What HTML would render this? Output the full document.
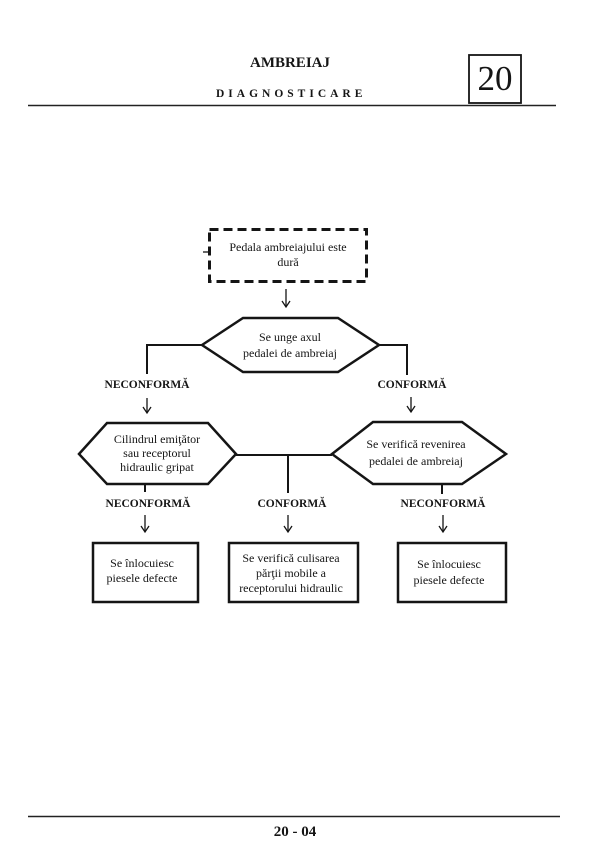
<!DOCTYPE html>
<html>
<head>
<meta charset="utf-8">
<style>
  html,body{margin:0;padding:0;background:#fff;}
  body{width:605px;height:868px;overflow:hidden;}
  svg{display:block;}
  .t{font-family:"Liberation Serif",serif;fill:#151515;}
  .n{font-size:12px;}
  .b{font-weight:bold;font-size:11.5px;}
</style>
</head>
<body>
<svg width="605" height="868" viewBox="0 0 605 868" xmlns="http://www.w3.org/2000/svg">
  <rect width="605" height="868" fill="#fff"/>

  <!-- Header -->
  <text class="t" x="290" y="67" text-anchor="middle" font-size="15" font-weight="bold">AMBREIAJ</text>
  <text class="t" x="216" y="97" font-size="11.5" font-weight="bold" letter-spacing="4">DIAGNOSTICARE</text>
  <rect x="469" y="55" width="52" height="48" fill="none" stroke="#151515" stroke-width="1.8"/>
  <text class="t" x="495" y="90" text-anchor="middle" font-size="35">20</text>
  <line x1="28" y1="105.5" x2="556" y2="105.5" stroke="#222" stroke-width="1.5"/>

  <!-- Dashed start box -->
  <rect x="209.5" y="229.5" width="157" height="52" fill="none" stroke="#151515" stroke-width="3" stroke-dasharray="9,5"/>
  <line x1="203" y1="252" x2="208" y2="252" stroke="#151515" stroke-width="1.3"/>
  <text class="t n" x="288" y="251" text-anchor="middle">Pedala ambreiajului este</text>
  <text class="t n" x="288" y="266" text-anchor="middle">dură</text>

  <!-- Arrows -->
  <g stroke="#151515" stroke-width="1.3" fill="none">
    <line x1="286" y1="289" x2="286" y2="307"/><polyline points="282,301 286,307 290,301"/>
    <line x1="147" y1="398" x2="147" y2="413"/><polyline points="143,407 147,413 151,407"/>
    <line x1="411" y1="397" x2="411" y2="412"/><polyline points="407,406 411,412 415,406"/>
    <line x1="145" y1="515" x2="145" y2="532"/><polyline points="141,526 145,532 149,526"/>
    <line x1="288" y1="515" x2="288" y2="532"/><polyline points="284,526 288,532 292,526"/>
    <line x1="443" y1="515" x2="443" y2="532"/><polyline points="439,526 443,532 447,526"/>
  </g>

  <!-- Hexagons -->
  <g fill="none" stroke="#151515" stroke-width="2.5" stroke-linejoin="miter">
    <polygon points="202,345 243,318 338,318 379,345 338,372 243,372"/>
    <polygon points="79,454 107,423 208,423 236,454 208,484 107,484"/>
    <polygon points="332,454 373,422 462,422 506,454 462,484 373,484"/>
  </g>

  <!-- Connectors -->
  <g fill="none" stroke="#151515" stroke-width="2">
    <polyline points="202,345 147,345 147,374"/>
    <polyline points="379,345 407,345 407,375"/>
    <line x1="236" y1="455" x2="332" y2="455"/>
    <line x1="288" y1="455" x2="288" y2="493"/>
    <line x1="145" y1="484" x2="145" y2="492"/>
    <line x1="442" y1="484" x2="442" y2="494"/>
  </g>

  <!-- Hexagon texts -->
  <text class="t n" x="290" y="341" text-anchor="middle">Se unge axul</text>
  <text class="t n" x="290" y="357" text-anchor="middle">pedalei de ambreiaj</text>

  <text class="t n" x="157" y="443" text-anchor="middle">Cilindrul emiţător</text>
  <text class="t n" x="157" y="457" text-anchor="middle">sau receptorul</text>
  <text class="t n" x="157" y="471" text-anchor="middle">hidraulic gripat</text>

  <text class="t n" x="416" y="448" text-anchor="middle">Se verifică revenirea</text>
  <text class="t n" x="416" y="465" text-anchor="middle">pedalei de ambreiaj</text>

  <!-- Labels -->
  <text class="t b" x="147" y="388" text-anchor="middle">NECONFORMĂ</text>
  <text class="t b" x="412" y="388" text-anchor="middle">CONFORMĂ</text>
  <text class="t b" x="148" y="507" text-anchor="middle">NECONFORMĂ</text>
  <text class="t b" x="292" y="507" text-anchor="middle">CONFORMĂ</text>
  <text class="t b" x="443" y="507" text-anchor="middle">NECONFORMĂ</text>

  <!-- Result boxes -->
  <g fill="none" stroke="#151515" stroke-width="2.5">
    <rect x="93" y="543" width="105" height="59"/>
    <rect x="229" y="543" width="129" height="59"/>
    <rect x="398" y="543" width="108" height="59"/>
  </g>
  <text class="t n" x="142" y="567" text-anchor="middle">Se înlocuiesc</text>
  <text class="t n" x="142" y="582" text-anchor="middle">piesele defecte</text>

  <text class="t n" x="291" y="562" text-anchor="middle">Se verifică culisarea</text>
  <text class="t n" x="291" y="577" text-anchor="middle">părţii mobile a</text>
  <text class="t n" x="291" y="592" text-anchor="middle">receptorului hidraulic</text>

  <text class="t n" x="449" y="568" text-anchor="middle">Se înlocuiesc</text>
  <text class="t n" x="449" y="584" text-anchor="middle">piesele defecte</text>

  <!-- Footer -->
  <line x1="28" y1="816.5" x2="560" y2="816.5" stroke="#222" stroke-width="1.5"/>
  <text class="t" x="295" y="836" text-anchor="middle" font-size="15" font-weight="bold">20 - 04</text>
</svg>
</body>
</html>
